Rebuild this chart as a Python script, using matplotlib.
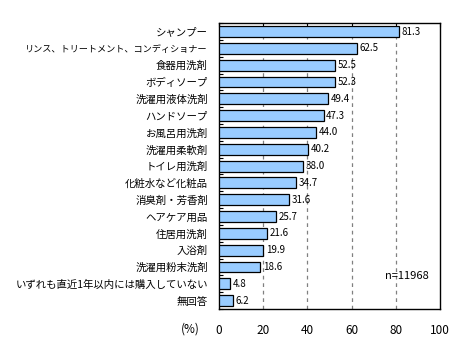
import numpy as np
import matplotlib
matplotlib.use('Agg')
import matplotlib.pyplot as plt

plt.rcParams['font.family'] = ['Noto Sans CJK JP', 'DejaVu Sans']

categories = ['シャンプー', 'リンス、トリートメント、コンディショナー', '食器用洗剤', 'ボディソープ',
              '洗濯用液体洗剤', 'ハンドソープ', 'お風呂用洗剤', '洗濯用柔軟剤', 'トイレ用洗剤',
              '化粧水など化粧品', '消臭剤・芳香剤', 'ヘアケア用品', '住居用洗剤', '入浴剤',
              '洗濯用粉末洗剤', 'いずれも直近1年以内には購入していない', '無回答']
values = [81.3, 62.5, 52.5, 52.3, 49.4, 47.3, 44.0, 40.2, 38.0,
          34.7, 31.6, 25.7, 21.6, 19.9, 18.6, 4.8, 6.2]
xticks = [0, 20, 40, 60, 80, 100]

fig = plt.figure(figsize=(4.69, 3.56), dpi=100)
ax = fig.add_axes([0.467, 0.132, 0.471, 0.803])

y = np.arange(len(categories))
ax.barh(y, values, height=0.65, color='#99ccff', edgecolor='black', linewidth=0.9, zorder=3)
for yi, v in zip(y, values):
    ax.text(v + 1.2, yi, '%.1f' % v, va='center', ha='left', fontsize=7, zorder=4)

ax.set_ylim(len(categories) - 0.5, -0.5)
ax.set_xlim(0, 100)
ax.set_yticks(y)
ax.set_yticklabels(categories, fontsize=7.5)
# the long label has full-width commas, squeeze it a little so it fits
for lab in ax.get_yticklabels():
    if len(lab.get_text()) > 19:
        lab.set_fontsize(6.6)
ax.set_yticks(np.arange(len(categories) + 1) - 0.5, minor=True)
ax.tick_params(axis='y', which='major', length=0, pad=8)
ax.tick_params(axis='y', which='minor', direction='in', length=3, width=0.8)

ax.set_xticks(xticks)
ax.set_xticklabels([str(t) for t in xticks], fontsize=8.5)
ax.tick_params(axis='x', which='major', direction='in', length=3, width=0.8,
               bottom=False, top=True, labelbottom=True, pad=11)
for t in xticks[1:-1]:
    ax.axvline(t, color='#808080', linestyle=(0, (3, 3)), linewidth=0.9, zorder=1)

for s in ax.spines.values():
    s.set_linewidth(1.0)

ax.text(-0.13, -0.07, '(%)', transform=ax.transAxes, fontsize=8.5, ha='center', va='center')
ax.text(0.75, 0.115, 'n=11968', transform=ax.transAxes, fontsize=8, ha='left', va='center')

plt.savefig('out.png', dpi=100)
